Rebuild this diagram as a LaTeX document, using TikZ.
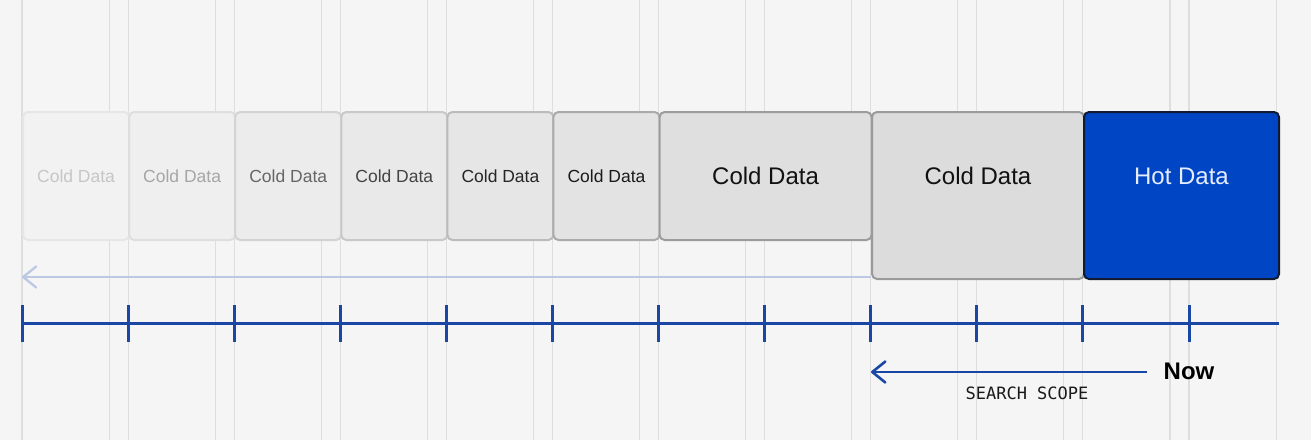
\documentclass[tikz,border=0pt]{standalone}
\usepackage{fontspec}
\setmainfont{Liberation Sans}
\newfontfamily\monof{DejaVu Sans Mono}
\usetikzlibrary{arrows.meta}
\definecolor{bg}{HTML}{F5F5F5}
\definecolor{gridc}{HTML}{DEDEDE}
\definecolor{axisblue}{HTML}{1A46A6}
\definecolor{fadeblue}{HTML}{BCC8E4}
\definecolor{hotfill}{HTML}{0045C3}
\definecolor{hotdraw}{HTML}{111A33}
\definecolor{hottext}{HTML}{E6EDFF}
\definecolor{fA}{HTML}{F2F2F2}\definecolor{dA}{HTML}{E6E6E6}\definecolor{tA}{HTML}{C6C6C6}
\definecolor{fB}{HTML}{EFEFEF}\definecolor{dB}{HTML}{DEDEDE}\definecolor{tB}{HTML}{A6A6A6}
\definecolor{fC}{HTML}{ECECEC}\definecolor{dC}{HTML}{D3D3D3}\definecolor{tC}{HTML}{666666}
\definecolor{fD}{HTML}{E9E9E9}\definecolor{dD}{HTML}{C8C8C8}\definecolor{tD}{HTML}{444444}
\definecolor{fE}{HTML}{E6E6E6}\definecolor{dE}{HTML}{BBBBBB}\definecolor{tE}{HTML}{262626}
\definecolor{fF}{HTML}{E3E3E3}\definecolor{dF}{HTML}{AAAAAA}\definecolor{tF}{HTML}{1A1A1A}
\definecolor{fG}{HTML}{DFDFDF}\definecolor{dG}{HTML}{9C9C9C}\definecolor{tG}{HTML}{111111}
\definecolor{fH}{HTML}{DCDCDC}\definecolor{dH}{HTML}{9A9A9A}\definecolor{tH}{HTML}{111111}
\tikzset{
  gridline/.style={draw=gridc, line width=1.1pt},
  databox/.style={rectangle, rounded corners=5pt, line width=2pt, anchor=north west, inner sep=0pt},
  smallbox/.style={databox, minimum width=106.09pt, minimum height=128pt},
  smalltext/.style={font=\fontsize{17.5}{20}\selectfont, inner sep=0pt},
  bigtext/.style={font=\fontsize{24}{28}\selectfont, inner sep=0pt},
  axisline/.style={draw=axisblue, line width=3pt},
  tick/.style={draw=axisblue, line width=3pt},
  arrowline/.style={line width=2.6pt, -{Straight Barb[length=13pt,width=21pt,round]}},
}
\begin{document}
\begin{tikzpicture}[x=1pt,y=-1pt]
\fill[bg] (0,0) rectangle (1311,440);
\useasboundingbox (0,0) rectangle (1311,440);
% grid
\foreach \k in {0,...,11} \draw[gridline] ({22+106.09*\k},0) -- ++(0,440);
\foreach \k in {1,...,12} \draw[gridline] ({3+106.09*\k},0) -- ++(0,440);
% small boxes
\node[smallbox, fill=fA, draw=dA] (b1) at (22,111) {};
\node[smallbox, fill=fB, draw=dB] (b2) at (128.09,111) {};
\node[smallbox, fill=fC, draw=dC] (b3) at (234.18,111) {};
\node[smallbox, fill=fD, draw=dD] (b4) at (340.27,111) {};
\node[smallbox, fill=fE, draw=dE] (b5) at (446.36,111) {};
\node[smallbox, fill=fF, draw=dF] (b6) at (552.45,111) {};
\node[databox, fill=fG, draw=dG, minimum width=212pt, minimum height=128pt] (b7) at (658.6,111) {};
\node[databox, fill=fH, draw=dH, minimum width=212pt, minimum height=167pt] (b8) at (871,111) {};
\node[databox, fill=hotfill, draw=hotdraw, minimum width=195pt, minimum height=167pt] (hot) at (1083,111) {};
% labels
\node[smalltext, text=tA] (l1) at (b1.center) {Cold Data};
\node[smalltext, text=tB] (l2) at (b2.center) {Cold Data};
\node[smalltext, text=tC] (l3) at (b3.center) {Cold Data};
\node[smalltext, text=tD] (l4) at (b4.center) {Cold Data};
\node[smalltext, text=tE] (l5) at (b5.center) {Cold Data};
\node[smalltext, text=tF] (l6) at (b6.center) {Cold Data};
\node[bigtext, text=tG] (l7) at (b7.center) {Cold Data};
\node[bigtext, text=tH] (l8) at (b8.center |- b7.center) {Cold Data};
\node[bigtext, text=hottext] (lh) at (hot.center |- b7.center) {Hot Data};
% faded arrow
\coordinate (fadeS) at (871,277);
\coordinate (fadeE) at (22,277);
\draw[arrowline, fadeblue, line width=2.3pt] (fadeS) -- (fadeE);
% axis
\coordinate (axL) at (22,323);
\coordinate (axR) at (1279,323);
\draw[axisline] (axL) -- (axR);
\foreach \k in {0,...,11} \draw[tick] ({22+106.09*\k},305) -- ++(0,37);
% search scope
\coordinate (ssR) at (1147,372);
\coordinate (ssL) at (871,372);
\draw[arrowline, axisblue] (ssR) -- (ssL);
\node[font=\fontsize{24}{27}\selectfont\bfseries, text=black, inner sep=0pt] (now) at (1189,371) {Now};
\node[font=\monof\fontsize{17}{19}\selectfont, text=black!90, inner sep=0pt] (scope) at (1027,393) {SEARCH SCOPE};
\end{tikzpicture}
\end{document}
